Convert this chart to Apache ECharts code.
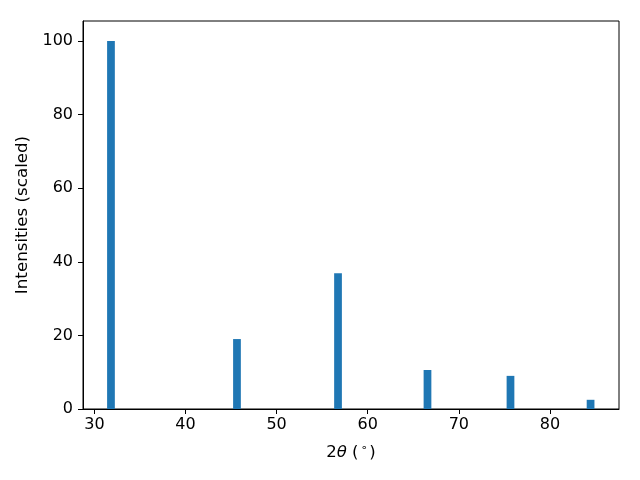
<!DOCTYPE html>
<html>
<head>
<meta charset="utf-8">
<script src="https://cdn.jsdelivr.net/npm/echarts@6/dist/echarts.min.js"></script>
<style>html,body{margin:0;padding:0;background:#fff}#c{width:640px;height:480px}</style>
</head>
<body>
<div id="c"></div>
<script>
// Peak positions (2θ, degrees) and scaled intensities
const twoTheta = [31.82, 45.65, 56.74, 66.56, 75.67, 84.46];
const intensities = [100, 19.0, 36.9, 10.6, 9.0, 2.5];
const xTicks = [30, 40, 50, 60, 70, 80];
const yTicks = [0, 20, 40, 60, 80, 100];
const barWidthDeg = 0.85;

const font = 'DejaVu Sans';
const chart = echarts.init(document.getElementById('c'), null, {renderer: 'canvas'});
const data = twoTheta.map((x, i) => [x, intensities[i]]);

chart.setOption({
  animation: false,
  backgroundColor: '#ffffff',
  grid: {left: 83, right: 21, top: 21, bottom: 71, show: true, borderColor: '#000', borderWidth: 1, backgroundColor: 'transparent'},
  xAxis: {
    type: 'value', min: 28.75, max: 87.58,
    name: '{n|2}{i|θ}{n| (}{s|∘}{n|)}',
    nameLocation: 'middle', nameGap: 34,
    nameTextStyle: {rich: {
      n: {fontFamily: font, fontSize: 16.5, color: '#000'},
      i: {fontFamily: font, fontSize: 16.5, fontStyle: 'italic', color: '#000'},
      s: {fontFamily: font, fontSize: 11, color: '#000', verticalAlign: 'top', padding: [0, 2, 8, 2]}
    }},
    axisLine: {show: true, onZero: false, lineStyle: {color: '#000', width: 1}},
    axisTick: {show: true, length: 5, customValues: xTicks, lineStyle: {color: '#000'}},
    axisLabel: {customValues: xTicks, margin: 8, fontFamily: font, fontSize: 16, color: '#000'},
    splitLine: {show: false}
  },
  yAxis: {
    type: 'value', min: 0, max: 105.4,
    name: 'Intensities (scaled)',
    nameLocation: 'middle', nameGap: 48, nameRotate: 90,
    nameTextStyle: {fontFamily: font, fontSize: 16.7, color: '#000'},
    axisLine: {show: true, onZero: false, lineStyle: {color: '#000', width: 1}},
    axisTick: {show: true, length: 5, customValues: yTicks, lineStyle: {color: '#000'}},
    axisLabel: {customValues: yTicks, margin: 10, fontFamily: font, fontSize: 16, color: '#000'},
    splitLine: {show: false}
  },
  series: [{
    type: 'custom',
    data: data,
    encode: {x: 0, y: 1},
    renderItem: function (params, api) {
      const x = api.value(0), y = api.value(1);
      const p0 = api.coord([x - barWidthDeg / 2, y]);
      const p1 = api.coord([x + barWidthDeg / 2, 0]);
      return {
        type: 'rect',
        shape: {x: p0[0], y: p0[1], width: p1[0] - p0[0], height: p1[1] - p0[1]},
        style: {fill: '#1f77b4'}
      };
    }
  }]
});
</script>
</body>
</html>
